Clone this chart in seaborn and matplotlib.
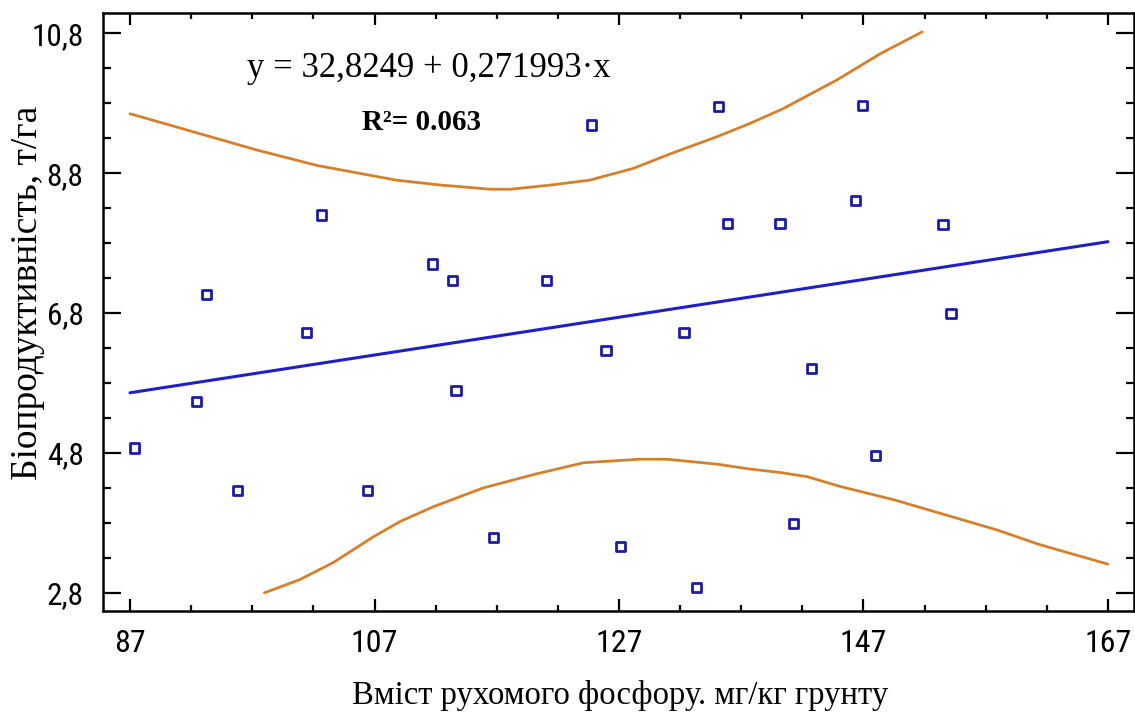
import numpy as np
import pandas as pd
import matplotlib
matplotlib.use("Agg")
import matplotlib.pyplot as plt
import seaborn as sns

# ---------------- data ----------------
phosphorus = [87.35, 92.46, 93.27, 95.81, 101.45, 102.68, 106.41, 111.73, 113.36,
              113.67, 116.72, 121.09, 124.77, 125.94, 127.14, 132.32, 133.36,
              135.12, 135.86, 140.17, 141.26, 142.75, 146.37, 146.94, 148.0,
              153.5, 154.16]
bioproductivity = [4.87, 5.54, 7.07, 4.26, 6.52, 8.20, 4.26, 7.50, 7.27,
                   5.69, 3.59, 7.27, 9.49, 6.26, 3.46, 6.52, 2.88,
                   9.75, 8.08, 8.08, 3.79, 6.01, 8.41, 9.77, 4.76,
                   8.07, 6.79]

fit_x = [87, 167]
fit_y = [5.66, 7.82]

upper_x = [87.0, 92.0, 97.4, 102.3, 108.8, 112.4, 116.5, 118.1, 121.4, 124.6,
           128.2, 131.4, 135.0, 137.7, 140.4, 144.8, 148.4, 151.8]
upper_y = [9.65, 9.40, 9.13, 8.91, 8.70, 8.63, 8.57, 8.57, 8.63, 8.70,
           8.87, 9.09, 9.32, 9.51, 9.72, 10.13, 10.51, 10.82]

lower_x = [98.0, 100.9, 103.6, 106.9, 109.1, 111.8, 115.9, 120.0, 124.1, 128.7,
           130.9, 135.0, 137.7, 140.2, 142.4, 145.1, 149.5, 153.8, 157.9,
           161.4, 167.0]
lower_y = [2.80, 2.99, 3.23, 3.60, 3.82, 4.03, 4.30, 4.49, 4.66, 4.71,
           4.71, 4.64, 4.57, 4.52, 4.46, 4.32, 4.13, 3.91, 3.70,
           3.49, 3.21]

x_ticks = [87, 107, 127, 147, 167]
y_ticks = [2.8, 4.8, 6.8, 8.8, 10.8]
y_tick_labels = ["2,8", "4,8", "6,8", "8,8", "10,8"]
x_label = "Вміст рухомого фосфору. мг/кг грунту"
y_label = "Біопродуктивність, т/га"
equation = "y = 32,8249 + 0,271993·x"
r2_text = "R²= 0.063"

# ---------------- styling ----------------
sns.set_style("ticks")
plt.rcParams['font.family'] = ['Roboto Condensed', 'Liberation Sans Narrow',
                               'Liberation Sans', 'DejaVu Sans']
plt.rcParams['text.color'] = 'black'
plt.rcParams['axes.labelcolor'] = 'black'
plt.rcParams['xtick.color'] = 'black'
plt.rcParams['ytick.color'] = 'black'

point_color = "#1c1ca6"
line_color = "#1f1fc8"
band_color = "#d5802c"
serif = ['Liberation Serif', 'DejaVu Serif']

fig = plt.figure(figsize=(11.35, 7.15), dpi=100)
ax = fig.add_axes([103 / 1135, 1 - 611 / 715, (1134 - 103) / 1135, (611 - 13) / 715])

pts = pd.DataFrame({"x": phosphorus, "y": bioproductivity})
fit = pd.DataFrame({"x": fit_x, "y": fit_y})
up = pd.DataFrame({"x": upper_x, "y": upper_y})
lo = pd.DataFrame({"x": lower_x, "y": lower_y})

sns.lineplot(data=up, x="x", y="y", ax=ax, color=band_color, lw=2.0, estimator=None, sort=True)
sns.lineplot(data=lo, x="x", y="y", ax=ax, color=band_color, lw=2.0, estimator=None, sort=True)
sns.lineplot(data=fit, x="x", y="y", ax=ax, color=line_color, lw=2.2, estimator=None)
sns.scatterplot(data=pts, x="x", y="y", ax=ax, marker="s", s=45,
                facecolor="none", edgecolor=point_color, linewidth=2.0, zorder=5)

ax.set_xlim(84.79, 169.13)
ax.set_ylim(2.54, 11.09)

ax.set_xticks(x_ticks)
ax.set_xticklabels([str(v) for v in x_ticks])
ax.set_yticks(y_ticks)
ax.set_yticklabels(y_tick_labels)
ax.set_xticks(np.arange(87, 168, 5), minor=True)
ax.set_yticks(np.arange(2.8, 10.85, 0.5), minor=True)

ax.tick_params(which="both", direction="in", top=True, right=True, width=1.6,
               colors="black", labelcolor="black")
ax.tick_params(axis="x", which="major", length=8.5, labelsize=23, pad=13)
ax.tick_params(axis="x", which="minor", length=4.5)
ax.tick_params(axis="y", which="major", length=13, labelsize=22.5, pad=14)
ax.tick_params(axis="y", which="minor", length=5.5)
for sp in ax.spines.values():
    sp.set_linewidth(1.8)
    sp.set_color("black")

ax.set_xlabel(x_label, family=serif, fontsize=23.5, color="black")
ax.set_ylabel(y_label, family=serif, fontsize=27, color="black")
ax.yaxis.set_label_coords(-0.056, 0.532)
ax.xaxis.set_label_coords(0.502, -0.115)

ax.text(0.14, 0.907, equation, transform=ax.transAxes, family=serif,
        fontsize=25, ha="left", va="center", color="black")
ax.text(0.251, 0.817, r2_text, transform=ax.transAxes, family=serif,
        fontsize=21, fontweight="bold", ha="left", va="center", color="black")

fig.savefig("out.png", dpi=100, facecolor="white")
